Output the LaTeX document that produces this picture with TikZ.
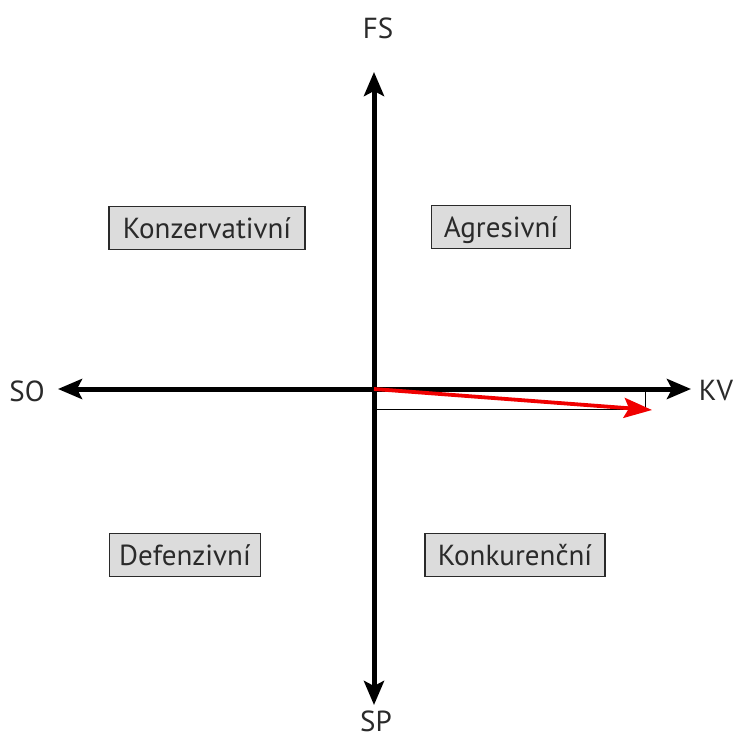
\documentclass[tikz,border=0pt]{standalone}
\usepackage{fontspec}
\setmainfont{PT Sans}
\usetikzlibrary{arrows.meta,positioning}
\definecolor{qGrey}{HTML}{2A2A2A}
\definecolor{qFill}{HTML}{DCDCDC}
\definecolor{qRed}{HTML}{F00000}
\begin{document}
\begin{tikzpicture}[x=1pt,y=-1pt,font=\fontsize{29}{33}\selectfont,text=qGrey,
  box/.style={draw=qGrey,fill=qFill,line width=1.2pt,inner sep=0pt,
              minimum height=43pt,text depth=0pt},
  ax/.style={{Stealth[length=24pt,width=20pt,inset=5pt]}-{Stealth[length=24pt,width=20pt,inset=5pt]},line width=5pt,black},
  vec/.style={-{Stealth[length=28pt,width=20pt,inset=5pt]},qRed,line width=3.8pt},
  thin/.style={black,line width=0.8pt}]
\useasboundingbox (0,0) rectangle (736,738);
\coordinate (o)  at (374,389);
\coordinate (fs) at (374,72);
\coordinate (sp) at (374,705);
\coordinate (so) at (58,389);
\coordinate (kv) at (691,389);
\coordinate (c)  at (645,409);
\coordinate (r)  at (652,410);
\node (lfs) at (378,28)  {FS};
\node (lsp) at (376,721) {SP};
\node (lso) at (27,391)  {SO};
\node (lkv) at (716,391) {KV};
\node[box,minimum width=196pt] (kon) at (207,228) {Konzervativní};
\node[box,minimum width=139pt] (agr) at (501,227) {Agresivní};
\node[box,minimum width=151pt] (def) at (185,555) {Defenzivní};
\node[box,minimum width=180pt] (kkr) at (515,555) {Konkurenční};
\draw[thin] (o |- c) -- (c) -- (c |- o);
\draw[ax] (sp) -- (fs);
\draw[ax] (so) -- (kv);
\draw[vec] (o) -- (r);
\end{tikzpicture}
\end{document}
